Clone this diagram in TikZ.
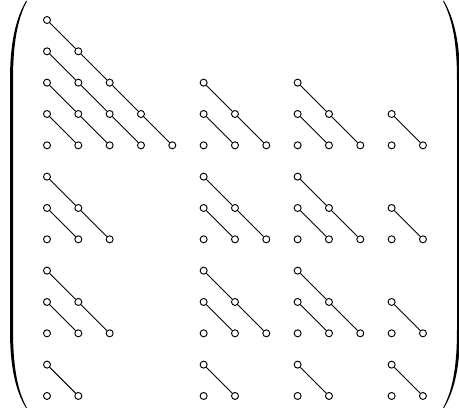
\documentclass[tikz,border=0pt]{standalone}
\begin{document}
\tikzset{
  dot/.style={circle,draw,line width=0.95pt,inner sep=0pt,minimum size=7pt},
  link/.style={line width=0.9pt},
  paren/.style={fill=black,draw=none}
}
\begin{tikzpicture}[x=1pt,y=-1pt]
\useasboundingbox (0,0) rectangle (459,409);
% left parenthesis
\path[paren] (26,1) .. controls (15,20) and (10,45) .. (10,80) -- (10,330)
  .. controls (10,365) and (15,390) .. (26,408)
  -- (27,408) .. controls (17,390) and (13,365) .. (13,330) -- (13,80)
  .. controls (13,45) and (17,20) .. (27,1) -- cycle;
% right parenthesis
\path[paren] (444,1) .. controls (455,20) and (460,45) .. (460,80) -- (460,330)
  .. controls (460,365) and (455,390) .. (444,408)
  -- (443,408) .. controls (453,390) and (457,365) .. (457,330) -- (457,80)
  .. controls (457,45) and (453,20) .. (443,1) -- cycle;
% blocks: top row / first column / size
\def\blocks{0/0/5, 2/5/3, 2/8/3, 3/11/2,
            5/0/3, 5/5/3, 5/8/3, 6/11/2,
            8/0/3, 8/5/3, 8/8/3, 9/11/2,
            11/0/2, 11/5/2, 11/8/2, 11/11/2}
% circles
\foreach \T/\C/\m in \blocks {
  \pgfmathtruncatemacro{\mm}{\m-1}
  \foreach \i in {0,...,\mm} {
    \foreach \j in {0,...,\i} {
      \pgfmathtruncatemacro{\rr}{\T+\i}
      \pgfmathtruncatemacro{\cc}{\C+\j}
      \node[dot] (n-\rr-\cc) at ({47+31.33*\cc},{20+31.33*\rr}) {};
    }
  }
}
% diagonal connectors
\foreach \T/\C/\m in \blocks {
  \pgfmathtruncatemacro{\ma}{\m-2}
  \foreach \i in {0,...,\ma} {
    \pgfmathtruncatemacro{\kk}{\m-1-\i}
    \foreach \k in {1,...,\kk} {
      \pgfmathtruncatemacro{\ra}{\T+\i+\k-1}
      \pgfmathtruncatemacro{\ca}{\C+\k-1}
      \pgfmathtruncatemacro{\rb}{\T+\i+\k}
      \pgfmathtruncatemacro{\cb}{\C+\k}
      \draw[link] (n-\ra-\ca) -- (n-\rb-\cb);
    }
  }
}
\end{tikzpicture}
\end{document}
